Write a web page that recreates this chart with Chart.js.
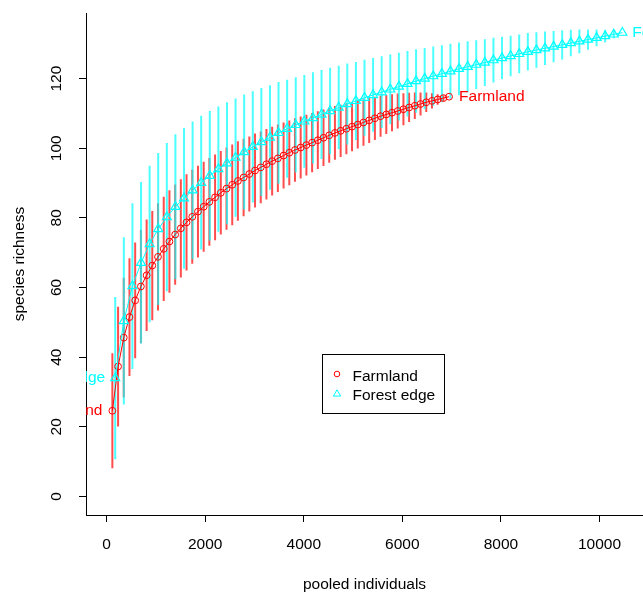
<!DOCTYPE html>
<html>
<head>
<meta charset="utf-8">
<script src="https://cdn.jsdelivr.net/npm/chart.js@4/dist/chart.umd.min.js"></script>
<style>
  html, body { margin: 0; padding: 0; background: #fff; overflow: hidden; }
  #wrap { width: 643px; height: 593px; position: relative; }
</style>
</head>
<body>
<div id="wrap"><canvas id="chart"></canvas></div>
<script>
// ─── DATA ──────────────────────────────────────────────
const xTicks = [0, 2000, 4000, 6000, 8000, 10000];
const yTicks = [0, 20, 40, 60, 80, 100, 120];

const seriesNames = ['Farmland', 'Forest edge'];

// pooled individuals per accumulation step
const farmlandX = [116, 232, 347, 463, 579, 695, 811, 926, 1042, 1158,
  1274, 1390, 1505, 1621, 1737, 1853, 1969, 2084, 2200, 2316,
  2432, 2548, 2663, 2779, 2895, 3011, 3127, 3242, 3358, 3474,
  3590, 3706, 3821, 3937, 4053, 4169, 4285, 4400, 4516, 4632,
  4748, 4864, 4979, 5095, 5211, 5327, 5443, 5558, 5674, 5790,
  5906, 6022, 6137, 6253, 6369, 6485, 6601, 6716, 6832, 6948];
const farmlandRich = [24.6, 37.3, 45.6, 51.5, 56.3, 60.3, 63.5, 66.3, 68.8, 71.1,
  73.2, 75.2, 77.0, 78.7, 80.3, 81.8, 83.2, 84.6, 85.9, 87.2,
  88.4, 89.5, 90.6, 91.6, 92.6, 93.6, 94.5, 95.4, 96.3, 97.1,
  97.9, 98.7, 99.5, 100.2, 100.9, 101.6, 102.3, 103.0, 103.7, 104.4,
  105.0, 105.6, 106.2, 106.8, 107.4, 108.0, 108.6, 109.2, 109.7, 110.2,
  110.7, 111.2, 111.7, 112.2, 112.7, 113.2, 113.6, 114.0, 114.4, 114.8];
// half length of the error bar (2 sd)
const farmlandCi = [16.5, 17.2, 17.2, 16.9, 16.6, 16.3, 16.0, 15.7, 15.4, 15.0,
  14.7, 14.4, 14.1, 13.8, 13.5, 13.2, 12.9, 12.6, 12.3, 12.0,
  11.8, 11.6, 11.4, 11.1, 10.8, 10.6, 10.3, 10.1, 9.9, 9.7,
  9.5, 9.3, 9.1, 8.9, 8.7, 8.5, 8.3, 8.1, 7.9, 7.7,
  7.5, 7.3, 7.1, 6.9, 6.7, 6.5, 6.2, 5.9, 5.6, 5.3,
  5.0, 4.6, 4.2, 3.8, 3.3, 2.8, 2.2, 1.5, 0.8, 0];

const forestX = [174, 349, 523, 698, 872, 1046, 1221, 1395, 1570, 1744,
  1918, 2093, 2267, 2442, 2616, 2790, 2965, 3139, 3314, 3488,
  3662, 3837, 4011, 4186, 4360, 4534, 4709, 4883, 5058, 5232,
  5406, 5581, 5755, 5930, 6104, 6278, 6453, 6627, 6802, 6976,
  7150, 7325, 7499, 7674, 7848, 8022, 8197, 8371, 8546, 8720,
  8894, 9069, 9243, 9418, 9592, 9766, 9941, 10115, 10290, 10464];
const forestRich = [34.0, 50.4, 60.4, 67.1, 72.5, 76.8, 80.2, 83.2, 85.6, 87.9,
  90.1, 92.1, 94.0, 95.7, 97.3, 98.9, 100.4, 101.8, 103.1, 104.4,
  105.6, 106.7, 107.7, 108.7, 109.7, 110.7, 111.7, 112.7, 113.6, 114.5,
  115.3, 116.1, 116.9, 117.7, 118.5, 119.3, 120.0, 120.7, 121.4, 122.1,
  122.8, 123.4, 124.0, 124.6, 125.3, 125.9, 126.5, 127.1, 127.7, 128.2,
  128.7, 129.2, 129.7, 130.2, 130.7, 131.2, 131.7, 132.2, 132.7, 133.2];
const forestCi = [23.3, 24.0, 23.8, 23.2, 22.5, 21.8, 21.3, 20.8, 20.2, 19.8,
  19.2, 18.6, 18.0, 17.5, 17.0, 16.5, 16.0, 15.5, 15.0, 14.6,
  14.1, 13.7, 13.3, 13.1, 12.8, 12.4, 12.0, 11.6, 11.2, 10.9,
  10.6, 10.3, 10.0, 9.7, 9.4, 9.1, 8.8, 8.5, 8.2, 7.9,
  7.6, 7.3, 7.0, 6.7, 6.4, 6.1, 5.8, 5.6, 5.4, 5.1,
  4.8, 4.5, 4.2, 3.8, 3.4, 2.9, 2.4, 1.8, 1.1, 0];

// axis limits (R style, 4% extension)
const xRange = [-419, 10883];
const yRange = [-5.34, 138.84];
// legend top-left corner in data units
const legendAt = [4370, 41];

// ─── HELPERS ───────────────────────────────────────────
const RED = '#ff0000';
const CYAN = '#00ffff';
const FONT = '"Liberation Sans", Arial, Helvetica, sans-serif';

const toPoints = (xs, ys) => xs.map((x, i) => ({ x, y: ys[i] }));

// vertical segments separated by gaps
const toBars = (xs, ys, ci) => {
  const out = [];
  xs.forEach((x, i) => {
    out.push({ x, y: ys[i] - ci[i] });
    out.push({ x, y: ys[i] + ci[i] });
    out.push({ x, y: null });
  });
  return out;
};

// ─── EXTRA DRAWING (R style labels, legend) ────────────
const rPlotExtras = {
  id: 'rPlotExtras',
  afterDatasetsDraw(chart) {
    const { ctx, chartArea, scales } = chart;
    const xs = scales.x, ys = scales.y;
    ctx.save();
    ctx.beginPath();
    ctx.rect(chartArea.left, chartArea.top,
      chartArea.right - chartArea.left, chartArea.bottom - chartArea.top);
    ctx.clip();
    ctx.font = '15.5px ' + FONT;
    ctx.textBaseline = 'middle';
    const ends = [
      [farmlandX, farmlandRich, RED, seriesNames[0]],
      [forestX, forestRich, CYAN, seriesNames[1]]
    ];
    ends.forEach(([xv, yv, col, name]) => {
      ctx.fillStyle = col;
      const n = xv.length - 1;
      ctx.textAlign = 'left';
      ctx.fillText(name, xs.getPixelForValue(xv[n]) + 10, ys.getPixelForValue(yv[n]));
      ctx.textAlign = 'right';
      ctx.fillText(name, xs.getPixelForValue(xv[0]) - 10, ys.getPixelForValue(yv[0]));
    });
    ctx.restore();
  },
  afterDraw(chart) {
    const { ctx, chartArea, scales } = chart;
    const ys = scales.y, xs = scales.x;
    ctx.save();
    ctx.fillStyle = '#000';
    ctx.font = '15.5px ' + FONT;
    ctx.textAlign = 'center';
    ctx.textBaseline = 'middle';

    // rotated y tick labels
    yTicks.forEach(v => {
      ctx.save();
      ctx.translate(57, ys.getPixelForValue(v));
      ctx.rotate(-Math.PI / 2);
      ctx.fillText(String(v), 0, 0);
      ctx.restore();
    });

    // axis titles
    ctx.fillText('pooled individuals', (chartArea.left + chartArea.right) / 2, 585);
    ctx.save();
    ctx.translate(20, (chartArea.top + chartArea.bottom) / 2);
    ctx.rotate(-Math.PI / 2);
    ctx.fillText('species richness', 0, 0);
    ctx.restore();

    // legend box
    const lx = Math.round(xs.getPixelForValue(legendAt[0])) + 0.5;
    const ly = Math.round(ys.getPixelForValue(legendAt[1])) + 0.5;
    const w = 122, h = 59;
    ctx.fillStyle = '#fff';
    ctx.fillRect(lx, ly, w, h);
    ctx.strokeStyle = '#000';
    ctx.lineWidth = 1;
    ctx.strokeRect(lx, ly, w, h);

    ctx.textAlign = 'left';
    ctx.fillStyle = '#000';
    ctx.fillText(seriesNames[0], lx + 30, ly + 22);
    ctx.fillText(seriesNames[1], lx + 30, ly + 41);

    ctx.lineWidth = 1;
    ctx.strokeStyle = RED;
    ctx.beginPath();
    ctx.arc(lx + 14.5, ly + 19.5, 2.8, 0, Math.PI * 2);
    ctx.stroke();

    ctx.strokeStyle = CYAN;
    const tx = lx + 14.5, ty = ly + 39.5, r = 4.2;
    ctx.beginPath();
    ctx.moveTo(tx, ty - r);
    ctx.lineTo(tx + r * 0.866, ty + r / 2);
    ctx.lineTo(tx - r * 0.866, ty + r / 2);
    ctx.closePath();
    ctx.stroke();
    ctx.restore();
  }
};

// ─── CHART ─────────────────────────────────────────────
new Chart(document.getElementById('chart'), {
  type: 'line',
  data: {
    datasets: [
      {
        label: seriesNames[0] + ' sd',
        data: toBars(farmlandX, farmlandRich, farmlandCi),
        borderColor: 'rgba(255, 0, 0, 0.7)',
        borderWidth: 2,
        pointRadius: 0,
        spanGaps: false,
        order: 4
      },
      {
        label: seriesNames[1] + ' sd',
        data: toBars(forestX, forestRich, forestCi),
        borderColor: 'rgba(0, 255, 255, 0.7)',
        borderWidth: 2,
        pointRadius: 0,
        spanGaps: false,
        order: 3
      },
      {
        label: seriesNames[0],
        data: toPoints(farmlandX, farmlandRich),
        borderColor: RED,
        borderWidth: 1,
        pointStyle: 'circle',
        pointRadius: 3.4,
        pointBorderColor: RED,
        pointBackgroundColor: 'rgba(0,0,0,0)',
        pointBorderWidth: 1,
        order: 2
      },
      {
        label: seriesNames[1],
        data: toPoints(forestX, forestRich),
        borderColor: CYAN,
        borderWidth: 1,
        pointStyle: 'triangle',
        pointRadius: 5.2,
        pointBorderColor: CYAN,
        pointBackgroundColor: 'rgba(0,0,0,0)',
        pointBorderWidth: 1.2,
        order: 1
      }
    ]
  },
  options: {
    responsive: true,
    maintainAspectRatio: false,
    animation: false,
    layout: { autoPadding: false, padding: { left: 0, right: 0, top: 13, bottom: 0 } },
    plugins: {
      legend: { display: false },
      tooltip: { enabled: false }
    },
    elements: { line: { tension: 0 } },
    scales: {
      x: {
        type: 'linear',
        min: xRange[0],
        max: xRange[1],
        afterBuildTicks: s => { s.ticks = xTicks.map(v => ({ value: v })); },
        afterFit: s => { s.height = 78; s.paddingLeft = 0; s.paddingRight = 0; },
        grid: { drawOnChartArea: false, drawTicks: true, tickLength: 7, color: '#000', lineWidth: 1 },
        border: { display: true, color: '#000', width: 1 },
        ticks: {
          color: '#000',
          padding: 13,
          maxRotation: 0,
          font: { family: FONT, size: 15.5 },
          callback: v => String(v)
        }
      },
      y: {
        type: 'linear',
        min: yRange[0],
        max: yRange[1],
        afterBuildTicks: s => { s.ticks = yTicks.map(v => ({ value: v })); },
        afterFit: s => { s.width = 86; s.paddingTop = 0; s.paddingBottom = 0; },
        grid: { drawOnChartArea: false, drawTicks: true, tickLength: 7, color: '#000', lineWidth: 1 },
        border: { display: true, color: '#000', width: 1 },
        ticks: { display: false }
      }
    }
  },
  plugins: [rPlotExtras]
});
</script>
</body>
</html>
